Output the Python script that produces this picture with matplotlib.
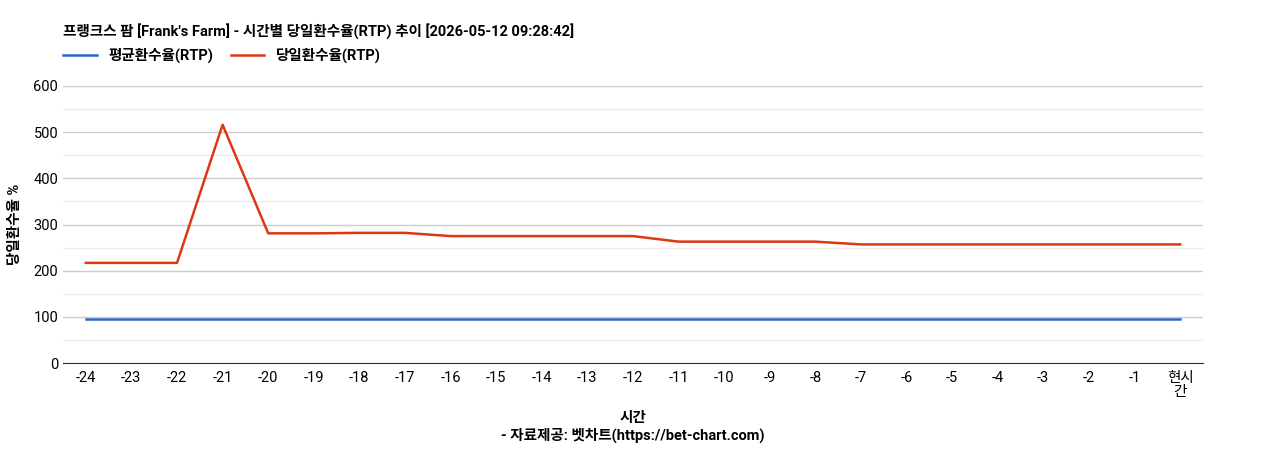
import matplotlib
matplotlib.use("Agg")
import matplotlib.pyplot as plt
from matplotlib.ticker import MultipleLocator

plt.rcParams['font.family'] = ['Roboto', 'Noto Sans CJK KR', 'DejaVu Sans']

TITLE = "프랭크스 팜 [Frank's Farm] - 시간별 당일환수율(RTP) 추이 [2026-05-12 09:28:42]"
hours = [str(h) for h in range(-24, 0)] + ["현시\n간"]
avg_rtp = [96] * 25
daily_rtp = [217, 217, 217, 516, 281, 281, 282, 282, 275, 275, 275, 275, 275,
             263, 263, 263, 263, 257, 257, 257, 257, 257, 257, 257, 257]

fig = plt.figure(figsize=(12.68, 4.5), dpi=100)
ax = fig.add_axes([0.0497, 0.193, 0.899, 0.616])
x = range(len(hours))
ax.plot(x, avg_rtp, color="#3366cc", lw=1.8, label="평균환수율(RTP)")
ax.plot(x, daily_rtp, color="#dc3912", lw=1.8, label="당일환수율(RTP)")

ax.set_xlim(-0.5, len(hours) - 0.5)
ax.set_ylim(0, 600)
ax.yaxis.set_major_locator(MultipleLocator(100))
ax.yaxis.set_minor_locator(MultipleLocator(50))
ax.grid(axis="y", which="major", color="#cccccc", lw=1)
ax.grid(axis="y", which="minor", color="#ebebeb", lw=1)
ax.set_axisbelow(True)
ax.set_xticks(list(x))
ax.set_xticklabels(hours, fontsize=10.5, linespacing=1.0)
ax.tick_params(axis="y", which="both", labelsize=10.5, length=0)
ax.tick_params(axis="x", length=0, pad=6)
for s in ["top", "right", "left"]:
    ax.spines[s].set_visible(False)
ax.spines["bottom"].set_color("#333333")

ax.set_ylabel("당일환수율 %", fontsize=10.5, fontweight="bold", labelpad=8)
ax.set_xlabel("시간\n- 자료제공: 벳차트(https://bet-chart.com)", fontsize=10.5,
              fontweight="bold", linespacing=1.3, labelpad=8)

fig.text(0.0497, 0.93, TITLE, fontsize=10.5, fontweight="bold", va="center")
ax.legend(loc="lower left", bbox_to_anchor=(-0.005, 1.06), ncol=2, frameon=False,
          prop={"weight": "bold", "size": 10.5}, handlelength=2.3, borderaxespad=0,
          columnspacing=1.2)

fig.savefig("out.png", dpi=100)
